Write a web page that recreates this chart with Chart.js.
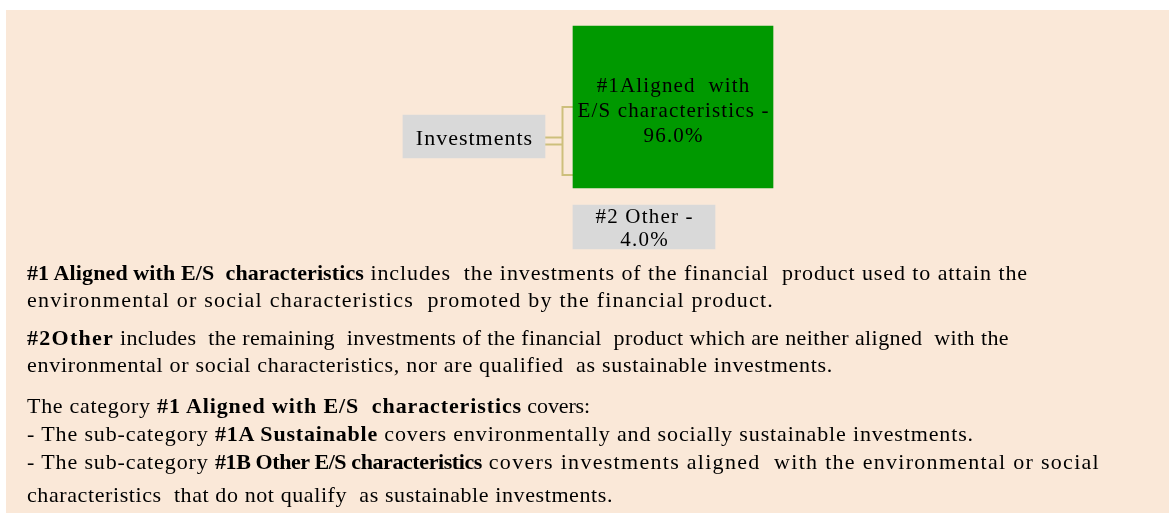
<!DOCTYPE html>
<html><head><meta charset="utf-8">
<script src="https://cdn.jsdelivr.net/npm/chart.js@4.4.0/dist/chart.umd.min.js"></script>
<style>
html,body{margin:0;padding:0;background:#fff;width:1169px;height:513px;overflow:hidden;}
#panel{position:absolute;left:6px;top:10px;width:1163px;height:503px;background:#FAE8D8;}
#c{position:absolute;left:0;top:0;}
.ln{position:absolute;left:27px;font-family:"Liberation Serif","Times New Roman",serif;font-size:22px;line-height:22px;color:#000;white-space:pre;}
.ln span,.ln b{display:inline-block;}
.ln b{font-weight:bold;}
</style></head><body>
<div id="panel"></div>
<canvas id="c" width="1169" height="513"></canvas>
<div id="notes"></div>
<script>
// ---- data ----
const nodeNames = ['Investments', '#1Aligned  with\nE/S characteristics', '#2 Other'];
const nodeShares = [null, 96.0, 4.0];
const nodeColors = ['#D9D9D9', '#009900', '#D9D9D9'];

const noteLines = [
  [['#1 Aligned with E/S  characteristics', 1], [' includes  the investments of the financial  product used to attain the', 0]],
  [['environmental or social characteristics  promoted by the financial product.', 0]],
  [['#2Other', 1], [' includes  the remaining  investments of the financial  product which are neither aligned  with the', 0]],
  [['environmental or social characteristics, nor are qualified  as sustainable investments.', 0]],
  [['The category ', 0], ['#1 Aligned with E/S  characteristics', 1], [' covers:', 0]],
  [['- The sub-category ', 0], ['#1A Sustainable', 1], [' covers environmentally and socially sustainable investments.', 0]],
  [['- The sub-category ', 0], ['#1B Other E/S characteristics', 1], [' covers investments aligned  with the environmental or social', 0]],
  [['characteristics  that do not qualify  as sustainable investments.', 0]]
];

// ---- layout (diagram geometry and text fitting, pixel space) ----
const boxCenterX = [474, 673, 644];
const boxSpanY = [[115, 158], [26, 188], [205, 249]];
const boxWidth = [142, 200, 142];
const labelFont = [22, 21, 21];
const labelLineH = [25, 25, 23.3];
const labelSpacing = [1.0, 1.15, 1.2];
const labelBaseOffset = [8.8, 10, 7.3];
const noteLeft = 27;
const noteBaselines = [280, 307.5, 345.5, 372, 413.5, 441.5, 469, 502.5];
const noteSegEnds = [
  [364, 1028], [774], [114, 1009], [833],
  [157, 522, 590], [215, 378, 974], [215, 482, 1100], [613]
];

function nodeLabel(i) {
  return nodeShares[i] == null ? nodeNames[i] : nodeNames[i] + ' -\n' + nodeShares[i].toFixed(1) + '%';
}

const datasets = nodeNames.map((n, i) => ({
  label: n.replace('\n', ' '),
  data: [{ x: boxCenterX[i], y: boxSpanY[i] }],
  backgroundColor: nodeColors[i],
  borderWidth: 0,
  barThickness: boxWidth[i],
  grouped: false
}));

const treePlugin = {
  id: 'tree',
  beforeDatasetsDraw(chart) {
    const ctx = chart.ctx;
    const inv = chart.getDatasetMeta(0).data[0];
    const child = chart.getDatasetMeta(1).data[0];
    const xs = inv.x + inv.width / 2;
    const xe = child.x - child.width / 2;
    const xm = xe - 10.5;
    const yc = (inv.y + inv.base) / 2;
    ctx.save();
    ctx.strokeStyle = '#CDBF7C';
    ctx.lineWidth = 2;
    ctx.beginPath();
    ctx.moveTo(xs, yc + 1); ctx.lineTo(xm, yc + 1);
    ctx.moveTo(xs, yc + 8); ctx.lineTo(xm, yc + 8);
    ctx.moveTo(xe, yc - 29.5); ctx.lineTo(xm, yc - 29.5); ctx.lineTo(xm, yc + 38.5); ctx.lineTo(xe, yc + 38.5);
    ctx.stroke();
    ctx.restore();
  },
  afterDatasetsDraw(chart) {
    const ctx = chart.ctx;
    ctx.save();
    ctx.fillStyle = '#000';
    ctx.textAlign = 'center';
    ctx.textBaseline = 'alphabetic';
    chart.data.datasets.forEach((ds, i) => {
      const el = chart.getDatasetMeta(i).data[0];
      const lines = nodeLabel(i).split('\n');
      ctx.font = labelFont[i] + 'px "Liberation Serif", "Times New Roman", serif';
      ctx.letterSpacing = labelSpacing[i] + 'px';
      const cy = (el.y + el.base) / 2 + labelBaseOffset[i];
      const h = labelLineH[i];
      lines.forEach((t, k) => {
        ctx.fillText(t, el.x + labelSpacing[i] / 2, cy + (k - (lines.length - 1) / 2) * h);
      });
    });
    ctx.restore();
  }
};

new Chart(document.getElementById('c'), {
  type: 'bar',
  data: { datasets },
  options: {
    responsive: false,
    animation: false,
    events: [],
    layout: { padding: 0 },
    plugins: { legend: { display: false }, tooltip: { enabled: false } },
    scales: {
      x: { type: 'linear', min: 0, max: 1169, offset: false, grid: { offset: false }, display: false },
      y: { type: 'linear', min: 0, max: 513, reverse: true, stacked: false, display: false }
    }
  },
  plugins: [treePlugin]
});

const notes = document.getElementById('notes');
noteLines.forEach((segs, i) => {
  const d = document.createElement('div');
  d.className = 'ln';
  d.style.top = (noteBaselines[i] - 18.4) + 'px';
  const spans = segs.map(([t, b]) => {
    const s = document.createElement(b ? 'b' : 'span');
    s.textContent = t;
    d.appendChild(s);
    return s;
  });
  notes.appendChild(d);
  let x = noteLeft;
  spans.forEach((s, k) => {
    const target = noteSegEnds[i][k] - x;
    const nat = s.getBoundingClientRect().width;
    const n = s.textContent.length;
    s.style.letterSpacing = ((target - nat) / n) + 'px';
    x = noteSegEnds[i][k];
  });
});
</script>
</body></html>
